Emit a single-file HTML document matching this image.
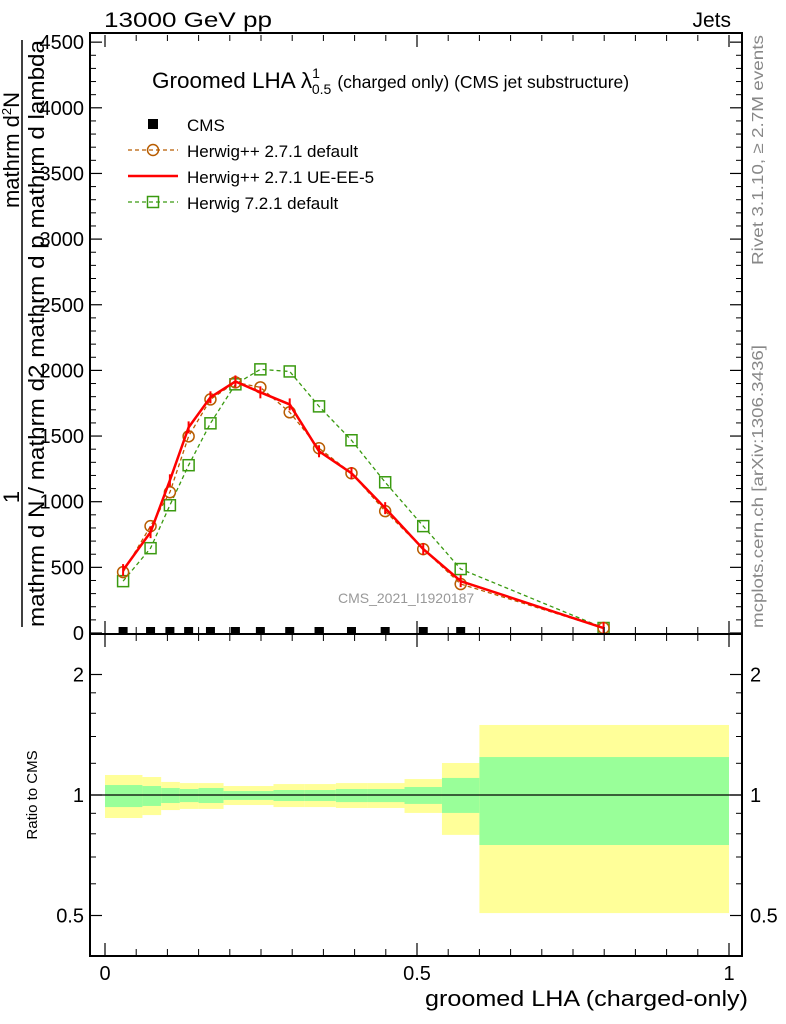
<!DOCTYPE html>
<html><head><meta charset="utf-8"><style>
body{margin:0;background:#fff}
svg{display:block;font-family:"Liberation Sans",sans-serif}
</style></head><body>
<svg id="c" width="786" height="1024" viewBox="0 0 786 1024">
<text x="104" y="27" font-size="21" textLength="168" lengthAdjust="spacingAndGlyphs">13000 GeV pp</text>
<text x="731" y="27" font-size="21" text-anchor="end">Jets</text>
<g id="bands"></g>
<g id="main"></g>
<rect x="90" y="33" width="652" height="601" fill="none" stroke="#000" stroke-width="2"/>
<rect x="90" y="634" width="652" height="322" fill="none" stroke="#000" stroke-width="2"/>
<g id="axes"></g>
<text x="152" y="88" font-size="22.5">Groomed LHA λ<tspan font-size="14" dy="-10">1</tspan><tspan font-size="14" dx="-8" dy="16">0.5</tspan><tspan font-size="17.5" dy="-6" dx="6">(charged only) (CMS jet substructure)</tspan></text>
<g>
<rect x="148" y="119" width="10" height="10" fill="#000"/><text x="187" y="131" font-size="17">CMS</text>
<line x1="128" y1="150" x2="178" y2="150" stroke="#b85c00" stroke-dasharray="4,3" stroke-width="1.2"/><circle cx="153" cy="150" r="5.5" fill="none" stroke="#b85c00" stroke-width="1.5"/><text x="187" y="157" font-size="17">Herwig++ 2.7.1 default</text>
<line x1="128" y1="176" x2="178" y2="176" stroke="#f00" stroke-width="2.5"/><text x="187" y="183" font-size="17">Herwig++ 2.7.1 UE-EE-5</text>
<line x1="128" y1="202" x2="178" y2="202" stroke="#3a9a10" stroke-dasharray="4,3" stroke-width="1.2"/><rect x="147.5" y="196.5" width="11" height="11" fill="none" stroke="#3a9a10" stroke-width="1.5"/><text x="187" y="209" font-size="17">Herwig 7.2.1 default</text>
</g>
<text x="338" y="603" font-size="14" fill="#999">CMS_2021_I1920187</text>
<text transform="translate(763,265) rotate(-90)" font-size="16" fill="#888" textLength="230" lengthAdjust="spacingAndGlyphs">Rivet 3.1.10, ≥ 2.7M events</text>
<text transform="translate(763,628) rotate(-90)" font-size="16" fill="#888" textLength="283" lengthAdjust="spacingAndGlyphs">mcplots.cern.ch [arXiv:1306.3436]</text>
<text transform="translate(19,497) rotate(-90)" font-size="22" text-anchor="middle">1</text>
<text transform="translate(19,150) rotate(-90)" font-size="22" text-anchor="middle">mathrm d<tspan font-size="13" dy="-8">2</tspan><tspan dy="8">N</tspan></text>
<text transform="translate(44,627) rotate(-90)" font-size="22" textLength="587" lengthAdjust="spacingAndGlyphs">mathrm d N / mathrm d2 mathrm d p mathrm d lambda</text>
<line x1="22" y1="40" x2="22" y2="627" stroke="#000" stroke-width="1.5"/>
<text transform="translate(37,795) rotate(-90)" font-size="15" text-anchor="middle">Ratio to CMS</text>
<text x="748" y="1006" font-size="22" text-anchor="end" textLength="323" lengthAdjust="spacingAndGlyphs">groomed LHA (charged-only)</text>
</svg>
<script>
const edges=[0,0.06,0.09,0.12,0.15,0.19,0.23,0.27,0.32,0.37,0.42,0.48,0.54,0.6,1.0];
const centers=[0.029,0.073,0.104,0.134,0.169,0.209,0.249,0.296,0.343,0.395,0.449,0.510,0.570,0.799];
const cmsVals=[0,0,0,0,0,0,0,0,0,0,0,0,0];
const hppDefault=[464,814,1072,1498,1779,1909,1871,1681,1407,1217,928,639,373,38];
const hppUE=[479,768,1163,1566,1795,1916,1833,1741,1384,1217,951,639,395,38];
const h7Default=[395,646,973,1278,1597,1894,2008,1992,1726,1468,1148,814,487,38];
const bandYelUp=[1.122,1.109,1.078,1.071,1.071,1.053,1.053,1.065,1.065,1.071,1.071,1.096,1.202,1.496];
const bandGrnUp=[1.059,1.053,1.041,1.035,1.041,1.023,1.023,1.029,1.029,1.035,1.035,1.047,1.103,1.244];
const bandGrnLo=[0.933,0.939,0.955,0.960,0.955,0.972,0.972,0.966,0.966,0.960,0.960,0.950,0.902,0.750];
const bandYelLo=[0.876,0.891,0.917,0.923,0.923,0.944,0.944,0.933,0.933,0.928,0.928,0.902,0.795,0.507];
const yTicks=[0,500,1000,1500,2000,2500,3000,3500,4000,4500];
const rTicks=[0.5,1,2];
const xTicks=[0,0.5,1];
const NS="http://www.w3.org/2000/svg";
const X=v=>105+v*624, Y=v=>633-v*0.1313, R=v=>795-Math.log2(v)*120.5;
function mk(t,a,p){const e=document.createElementNS(NS,t);for(const k in a)e.setAttribute(k,a[k]);p.appendChild(e);return e;}
const bands=document.getElementById('bands'),main=document.getElementById('main'),ax=document.getElementById('axes');
for(let i=0;i<bandYelUp.length;i++){
 const x0=X(edges[i]),x1=X(edges[i+1]);
 const y=mk('rect',{x:x0,y:R(bandYelUp[i]),width:x1-x0,height:R(bandYelLo[i])-R(bandYelUp[i]),fill:'#ffff99'},bands);
 
 
 const g=mk('rect',{x:x0,y:R(bandGrnUp[i]),width:x1-x0,height:R(bandGrnLo[i])-R(bandGrnUp[i]),fill:'#99ff99'},bands);
 
 
}
const one=mk('line',{x1:90,x2:742,y1:R(1),y2:R(1),stroke:'#000','stroke-width':1.2},bands);


function pts(a){return a.map((v,i)=>X(centers[i])+','+Y(v)).join(' ');}
const lg=mk('polyline',{points:pts(h7Default),fill:'none',stroke:'#3a9a10','stroke-dasharray':'4,3','stroke-width':1.3},main);


h7Default.forEach((v,i)=>{const s=mk('rect',{x:X(centers[i])-5.5,y:Y(v)-5.5,width:11,height:11,fill:'none',stroke:'#3a9a10','stroke-width':1.5},main);
 
 });
const lb=mk('polyline',{points:pts(hppDefault),fill:'none',stroke:'#b85c00','stroke-dasharray':'4,3','stroke-width':1.3},main);


hppDefault.forEach((v,i)=>{const c=mk('circle',{cx:X(centers[i]),cy:Y(v),r:5.5,fill:'none',stroke:'#b85c00','stroke-width':1.5},main);
 
 });
const lr=mk('polyline',{points:pts(hppUE),fill:'none',stroke:'#f00','stroke-width':2.5},main);


hppUE.forEach((v,i)=>{const e=mk('line',{x1:X(centers[i]),x2:X(centers[i]),y1:Y(v)-6,y2:Y(v)+6,stroke:'#f00','stroke-width':2},main);
 
 });
cmsVals.forEach((v,i)=>{const s=mk('rect',{x:X(centers[i])-4.5,y:Y(v)-6,width:9,height:6,fill:'#000'},main);
 
 });
yTicks.forEach(v=>{const y=Y(v);
 mk('line',{x1:90,x2:102,y1:y,y2:y,stroke:'#000','stroke-width':1.2},ax);
 mk('line',{x1:742,x2:730,y1:y,y2:y,stroke:'#000','stroke-width':1.2},ax);
 const t=mk('text',{x:84,y:y+7,'font-size':20,'text-anchor':'end'},ax);t.textContent=v;
 
 
 for(let k=1;k<5&&v<4500;k++){const yy=Y(v+k*100);mk('line',{x1:90,x2:96,y1:yy,y2:yy,stroke:'#000'},ax);mk('line',{x1:742,x2:736,y1:yy,y2:yy,stroke:'#000'},ax);}
});
rTicks.forEach(v=>{const y=R(v);
 mk('line',{x1:90,x2:102,y1:y,y2:y,stroke:'#000','stroke-width':1.2},ax);
 mk('line',{x1:742,x2:730,y1:y,y2:y,stroke:'#000','stroke-width':1.2},ax);
 const t=mk('text',{x:84,y:y+7,'font-size':20,'text-anchor':'end'},ax);t.textContent=v;
 
 
 const t2=mk('text',{x:750,y:y+7,'font-size':20},ax);t2.textContent=v;
 
 
});
[0.6,0.7,0.8,0.9,1.2,1.4,1.6,1.8].forEach(v=>{const y=R(v);mk('line',{x1:90,x2:96,y1:y,y2:y,stroke:'#000'},ax);mk('line',{x1:742,x2:736,y1:y,y2:y,stroke:'#000'},ax);});
xTicks.forEach(v=>{const x=X(v);
 [[633,621],[35,47],[955,943],[635,647]].forEach(p=>mk('line',{x1:x,x2:x,y1:p[0],y2:p[1],stroke:'#000','stroke-width':1.2},ax));
 const t=mk('text',{x:x,y:980,'font-size':20,'text-anchor':'middle'},ax);t.textContent=v;
 
 
});
for(let k=1;k<20;k++){if(k%10==0)continue;const x=X(k*0.05);
 [[633,627],[35,41],[955,949],[635,641]].forEach(p=>mk('line',{x1:x,x2:x,y1:p[0],y2:p[1],stroke:'#000'},ax));}
</script>
</body></html>
